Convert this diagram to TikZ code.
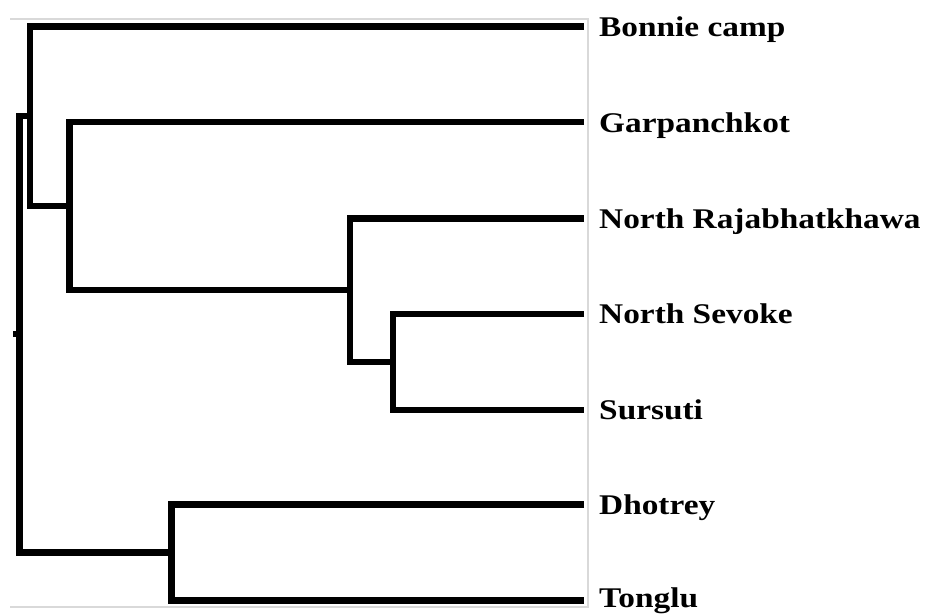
\documentclass[tikz,border=0pt]{standalone}
\usepackage{fontspec}
\setmainfont{Liberation Serif}
\begin{document}
\begin{tikzpicture}[x=1pt,y=-1pt,
  branch/.style={line width=6.5pt,line join=miter,line cap=butt,black},
  frame/.style={line width=1.3pt,color=black!15},
  leaflabel/.style={anchor=base west,inner sep=0pt,font=\fontsize{28.5}{32}\selectfont\bfseries}]
\useasboundingbox (0,0) rectangle (925,614);
% light frame of the plot area
\draw[frame] (10,19) -- (588,19) -- (588,607) -- (10,607);
% leaf ends
\coordinate (lB) at (584,26.5);
\coordinate (lG) at (584,122);
\coordinate (lNR) at (584,218.5);
\coordinate (lNS) at (584,314);
\coordinate (lS) at (584,410);
\coordinate (lD) at (584,504.5);
\coordinate (lT) at (584,600.5);
% labels
\node[leaflabel] (B) at (599,36.5) {\scalebox{1.17}[1]{Bonnie camp}};
\node[leaflabel] (G) at (599,132) {\scalebox{1.17}[1]{Garpanchkot}};
\node[leaflabel] (NR) at (599,228) {\scalebox{1.17}[1]{North Rajabhatkhawa}};
\node[leaflabel] (NS) at (599,323.5) {\scalebox{1.17}[1]{North Sevoke}};
\node[leaflabel] (S) at (599,419.5) {\scalebox{1.17}[1]{Sursuti}};
\node[leaflabel] (D) at (599,514) {\scalebox{1.17}[1]{Dhotrey}};
\node[leaflabel] (T) at (599,607.5) {\scalebox{1.17}[1]{Tonglu}};
% internal joints
\coordinate (c1) at (393,362);
\coordinate (c2) at (350,290);
\coordinate (c3) at (69.5,206);
\coordinate (c4) at (30,116);
\coordinate (c5) at (171.5,552.5);
\coordinate (root) at (19.5,334);
\coordinate (tick) at (13,334);
% clusters
\draw[branch] (lNS) -| (c1) |- (lS);
\draw[branch] (lNR) -| (c2) |- (c1);
\draw[branch] (lG) -| (c3) |- (c2);
\draw[branch] (lB) -| (c4) |- (c3);
\draw[branch] (lD) -| (c5) |- (lT);
\draw[branch] (c4) -| (root) |- (c5);
\draw[branch] (root) -- (tick);
\end{tikzpicture}
\end{document}
